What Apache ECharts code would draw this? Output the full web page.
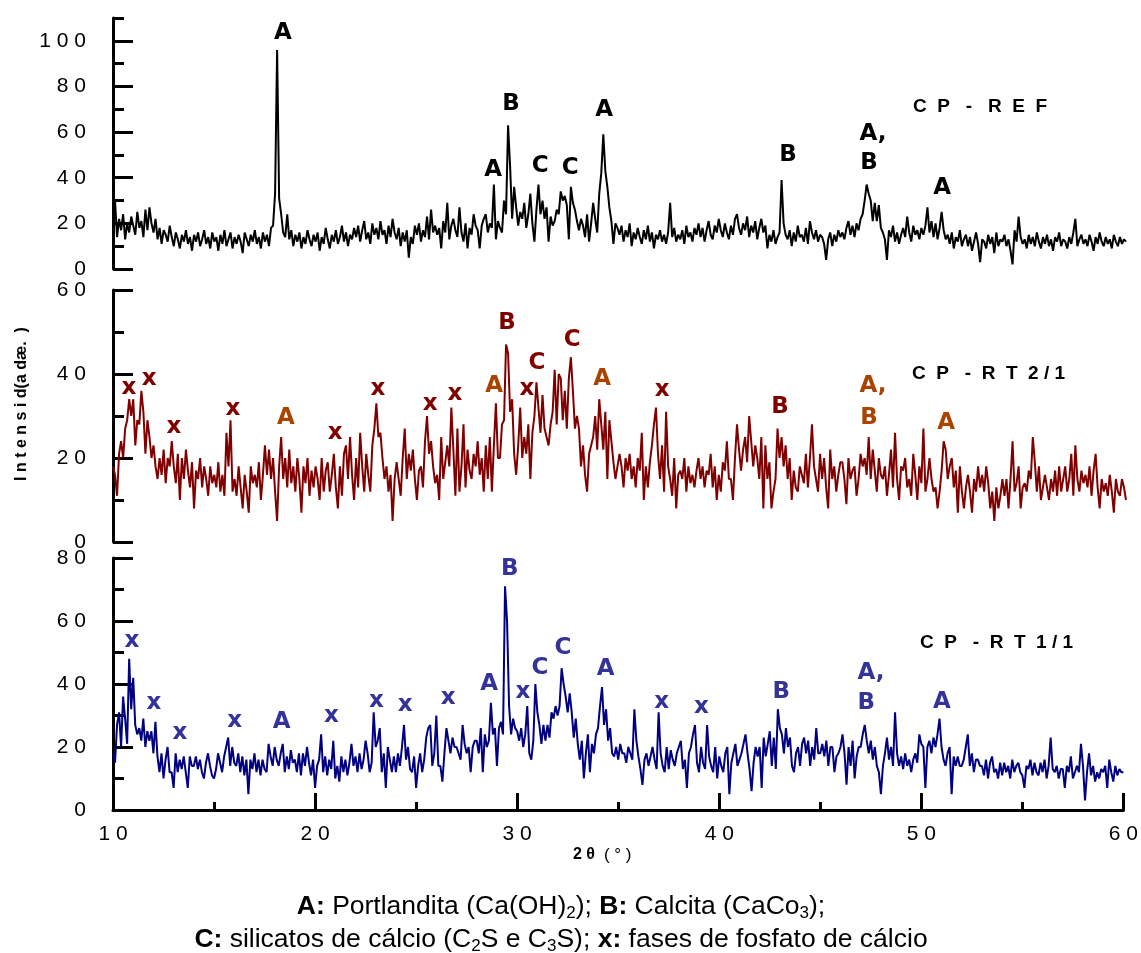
<!DOCTYPE html>
<html><head><meta charset="utf-8">
<script src="https://cdn.jsdelivr.net/npm/echarts@6/dist/echarts.min.js"></script>
<style>html,body{margin:0;padding:0;background:#fff}#c{width:1141px;height:953px}</style>
</head><body><div id="c"></div><script>
// 2θ scan: 10.0° to 60.0°, step 0.1°
const thetaStart = 10, thetaStep = 0.1, thetaCount = 501;
const twoTheta = Array.from({length: thetaCount}, (_, i) => +(thetaStart + i * thetaStep).toFixed(1));

// CP - REF intensities (one row per degree)
const refIntensity = [
 18,30,14,22,17,24,13,20,16,23, 19,15,25,18,21,14,26,17,27,20,
 16,22,13,18,11,17,15,12,19,14, 10,16,13,9,15,12,17,11,14,8,
 15,12,16,10,13,17,11,14,9,16, 12,14,8,15,11,17,10,13,16,9,
 14,11,15,12,7,16,13,10,15,12, 17,11,14,9,16,12,15,10,18,19,
 33,96,31,24,16,14,24,13,17,10, 15,12,16,9,14,11,17,13,10,15,
 12,16,8,14,11,18,13,9,15,12, 17,11,14,19,12,16,10,15,13,18,
 14,19,12,17,21,13,16,11,20,15, 18,13,21,15,17,11,19,14,22,16,
 13,18,10,16,12,17,5,14,11,19, 15,20,12,17,14,23,13,26,16,19,
 15,18,9,21,16,29,13,19,22,17, 14,27,16,12,20,9,18,15,24,19,
 17,9,19,22,24,16,20,18,37,13, 21,18,16,30,24,63,45,22,36,27,
 19,25,22,29,18,24,33,20,12,26, 37,24,30,22,27,12,23,19,21,26,
 24,34,30,32,28,13,36,29,26,21, 17,22,19,14,24,12,20,29,22,16,
 33,42,59,43,36,27,21,11,20,18, 15,19,12,17,14,20,10,16,13,18,
 14,11,17,13,19,12,16,9,15,13, 17,12,15,11,16,29,14,18,12,15,
 13,17,11,19,14,16,12,18,15,20, 14,18,12,17,21,15,13,19,16,22,
 17,14,20,16,13,19,15,22,24,18, 15,20,17,23,14,19,16,21,13,18,
 22,16,19,9,15,12,17,11,14,16, 39,20,15,13,17,10,16,12,19,14,
 15,12,18,11,21,16,13,17,12,15, 14,11,4,13,16,10,15,12,17,14,
 16,13,18,21,15,19,14,20,17,22, 24,30,37,33,30,21,29,21,28,18,
 16,13,4,17,14,19,12,16,11,15, 18,14,23,16,12,19,15,17,13,18,
 15,19,27,16,21,14,20,13,18,25, 17,13,15,11,16,9,14,12,17,10,
 13,15,10,14,8,12,16,11,3,13, 12,9,15,11,14,7,16,10,13,12,
 15,10,13,8,2,17,12,23,14,11, 13,9,15,11,14,10,16,12,9,14,
 11,15,10,13,8,14,12,16,10,13, 12,9,14,11,16,22,10,13,15,11,
 13,10,15,12,8,14,11,16,12,10, 14,11,13,9,15,12,10,14,11,13,
 12
];

// CP - RT2/1 intensities
const rt21Intensity = [
 18,16,11,21,24,20,27,29,34,30, 34,23,29,28,36,31,21,29,25,20,
 23,18,15,20,16,22,14,20,18,24, 18,14,21,10,20,15,22,17,13,19,
 8,17,15,20,13,18,15,11,18,14, 16,13,19,12,16,11,26,18,29,12,
 15,11,18,13,8,16,12,7,18,14, 16,13,19,10,16,23,16,22,15,20,
 12,5,18,25,15,20,13,22,14,18, 12,20,15,7,18,14,20,11,17,13,
 18,15,10,20,12,17,19,12,16,21, 13,8,18,11,21,23,15,25,16,10,
 20,13,26,18,12,21,16,12,23,27, 33,25,26,20,15,18,12,16,5,15,
 19,15,11,20,27,15,21,17,22,15, 10,17,18,13,24,30,21,24,18,14,
 16,10,25,15,19,23,18,32,22,11, 27,12,18,28,13,22,17,15,21,18,
 24,16,20,12,23,15,25,12,23,33, 20,20,28,29,47,45,31,34,21,16,
 23,32,20,25,21,28,15,26,30,38, 32,26,35,27,25,23,28,31,41,28,
 40,39,29,36,27,39,44,36,27,30, 27,18,23,16,12,21,23,25,30,22,
 34,28,22,31,15,29,24,19,15,18, 21,18,13,20,17,21,15,18,13,20,
 17,26,10,18,13,19,23,28,32,21, 15,23,12,31,18,15,11,20,8,16,
 17,15,20,12,18,14,16,13,17,20, 15,18,13,17,16,21,13,18,10,16,
 12,19,17,24,15,15,10,20,28,22, 17,22,25,19,30,24,18,23,20,15,
 25,8,23,15,19,8,12,15,27,20, 25,18,23,15,20,10,17,13,12,18,
 16,14,21,13,20,28,18,15,12,21, 15,20,13,8,22,15,18,12,16,19,
 19,15,9,20,15,17,18,11,15,21, 18,20,16,25,15,22,17,12,20,16,
 15,18,11,16,22,13,26,15,10,18, 17,20,13,15,11,21,16,10,18,14,
 27,12,15,20,15,12,13,8,12,17, 24,22,15,18,20,13,17,7,18,12,
 8,13,16,12,7,15,12,18,13,16, 12,18,14,8,12,5,13,8,11,15,
 11,15,8,15,24,12,14,18,8,13, 14,12,17,15,25,19,12,18,10,13,
 16,13,10,15,12,17,11,18,12,15, 18,12,15,21,11,23,15,12,17,14,
 16,13,18,11,17,21,13,8,15,12, 14,11,16,12,7,15,12,11,15,13,
 10
];

// CP - RT1/1 intensities
const rt11Intensity = [
 18,15,27,31,20,36,29,21,48,32, 42,27,24,26,22,29,20,25,22,25,
 18,28,17,12,18,10,16,20,12,12, 7,18,12,16,13,17,12,7,17,14,
 14,17,13,16,12,10,15,18,14,11, 10,13,18,15,12,17,20,23,14,20,
 15,14,18,12,17,11,16,5,16,13, 18,12,16,11,16,13,12,21,17,14,
 20,16,14,18,21,12,17,13,19,15, 16,12,18,11,18,14,20,15,11,16,
 7,14,16,24,12,17,11,16,13,22, 10,14,9,17,12,16,11,15,21,14,
 17,12,18,13,16,22,18,12,15,31, 20,22,26,12,18,7,20,16,12,17,
 12,18,14,20,27,16,20,13,12,17, 7,14,18,12,16,23,26,27,14,18,
 30,14,14,9,18,26,22,18,23,20, 20,18,16,27,21,18,20,12,20,22,
 22,18,26,12,24,20,22,34,24,26, 14,26,28,24,71,60,33,24,29,26,
 25,22,26,20,24,33,18,16,22,40, 31,27,21,27,22,27,23,31,29,33,
 30,33,45,40,36,31,37,31,23,29, 21,16,22,10,18,24,12,21,18,24,
 26,33,39,27,32,22,26,18,17,20, 16,21,18,18,15,20,18,16,32,22,
 17,13,8,16,18,14,17,20,16,13, 31,18,14,12,20,13,19,16,14,18,
 20,22,13,16,7,18,20,24,27,15, 12,20,15,13,27,17,14,12,20,10,
 17,14,12,18,20,5,15,18,21,14, 16,18,21,24,18,13,6,15,20,17,
 20,7,23,17,21,25,14,23,13,32, 26,24,18,26,20,23,14,12,18,20,
 14,21,23,18,22,14,20,16,26,18, 18,21,17,22,14,20,20,12,17,18,
 20,24,18,8,20,14,22,10,17,20, 20,24,27,22,18,22,16,20,14,12,
 5,14,18,23,16,20,14,31,18,14, 17,13,18,14,16,12,16,18,15,24,
 21,20,7,20,22,18,23,20,24,29, 20,16,14,18,20,5,17,14,17,14,
 14,16,20,24,14,18,12,16,16,14, 14,11,16,10,15,17,12,13,10,15,
 11,15,12,14,10,16,12,14,15,12, 11,7,14,13,16,11,15,12,11,15,
 12,16,10,14,23,13,12,14,10,13, 13,7,14,12,17,10,12,14,12,21,
 14,3,12,18,11,14,9,12,10,13, 12,14,7,16,12,9,14,11,13,12,
 12
];

// tick labels
const xTicks = [10, 20, 30, 40, 50, 60];
const yTicksRef = [0, 20, 40, 60, 80, 100];
const yTicksRt21 = [0, 20, 40, 60];
const yTicksRt11 = [0, 20, 40, 60, 80];

// peak identifications: [label, 2θ, intensity]
const refPeaks = [
 ['A',18.39,103.5],['A',28.76,43.4],['B',29.64,72.4],['C',31.08,45.2],['C',32.56,44.3],
 ['A',34.24,69.7],['B',43.32,50],['A,',47.51,59.2],['B',47.31,46.5],['A',50.92,35.5]
];
const rt21PeaksOther = [
 ['x',10.79,36.7],['x',11.78,38.8],['x',13.01,27.4],['x',15.92,31.7],['x',20.96,26],
 ['x',23.08,36.4],['x',25.65,32.9],['x',26.88,35.2],['B',29.45,52.1],['x',30.43,36.4],
 ['C',30.93,42.6],['C',32.66,48.1],['x',37.1,36.2],['B',42.92,32.1]
];
const rt21PeaksPortlandite = [
 ['A',18.54,29.5],['A',28.81,37.1],['A',34.14,38.8],['A,',47.51,37.1],['B',47.31,29.5],['A',51.12,28.3]
];
const rt11Peaks = [
 ['x',10.94,53.7],['x',12.02,34.0],['x',13.31,24.4],['x',16.02,28.3],['A',18.34,27.9],
 ['x',20.81,29.8],['x',23.03,34.6],['x',24.46,33.3],['x',26.58,35.6],['A',28.61,40],
 ['B',29.64,76.5],['x',30.29,37.5],['C',31.13,45.1],['C',32.26,51.4],['A',34.38,44.8],
 ['x',37.15,34.3],['x',39.12,32.7],['B',43.07,37.5],['A,',47.51,43.5],['B',47.27,34],['A',51.02,34.3]
];

const FONT = '"Liberation Sans", Arial, sans-serif';
const spaced = v => String(v).split('').join(' ');
const BLACK = '#000';

function xAxisFor(i, visible) {
  return {
    gridIndex: i, type: 'value', min: 10, max: 60, interval: 10, show: visible,
    axisLine: {show: true, onZero: false, lineStyle: {color: BLACK, width: 3}},
    axisTick: {show: true, inside: true, length: 17, lineStyle: {color: BLACK, width: 3}},
    minorTick: {show: true, splitNumber: 2, length: 8, lineStyle: {color: BLACK, width: 3}},
    axisLabel: {margin: 14, formatter: spaced, color: BLACK, fontSize: 21, fontFamily: FONT,
      customValues: xTicks},
    splitLine: {show: false}, minorSplitLine: {show: false}
  };
}
function yAxesFor(i, max, majors) {
  return [
    {gridIndex: i, type: 'value', min: 0, max: max, interval: 10, position: 'left',
     axisLine: {show: true, onZero: false, lineStyle: {color: BLACK, width: 3}},
     axisTick: {show: true, inside: true, length: 20, customValues: majors, lineStyle: {color: BLACK, width: 3}},
     axisLabel: {customValues: majors, formatter: spaced, margin: 27, color: BLACK, fontSize: 21, fontFamily: FONT},
     splitLine: {show: false}},
    {gridIndex: i, type: 'value', min: 0, max: max, interval: 10, position: 'left',
     axisLine: {show: false},
     axisTick: {show: true, inside: true, length: 11, lineStyle: {color: BLACK, width: 3}},
     axisLabel: {show: false}, splitLine: {show: false}}
  ];
}
function lineSeries(values, idx, color) {
  return {type: 'line', xAxisIndex: idx, yAxisIndex: idx * 2, showSymbol: false, symbol: 'none',
    data: twoTheta.map((t, k) => [t, values[k]]), lineStyle: {color: color, width: 2},
    silent: true, z: 2};
}
function labelSeries(arr, idx, color) {
  return {type: 'scatter', xAxisIndex: idx, yAxisIndex: idx * 2, symbolSize: 1, silent: true, z: 5,
    itemStyle: {color: 'rgba(0,0,0,0)', opacity: 1},
    data: arr.map(a => ({name: a[0], value: [a[1], a[2]]})),
    label: {show: true, position: 'inside', formatter: p => p.name, color: color,
      fontSize: 23, fontWeight: 'bold', fontFamily: '"DejaVu Sans", sans-serif'}};
}

const chart = echarts.init(document.getElementById('c'), null, {renderer: 'canvas'});
chart.setOption({
  animation: false,
  backgroundColor: '#fff',
  grid: [
    {left: 113, right: 15, top: 18, height: 251},
    {left: 113, right: 15, top: 290, height: 252},
    {left: 113, right: 15, top: 558, height: 252}
  ],
  xAxis: [xAxisFor(0, false), xAxisFor(1, false), xAxisFor(2, true)],
  yAxis: [].concat(yAxesFor(0, 110, yTicksRef), yAxesFor(1, 60, yTicksRt21), yAxesFor(2, 80, yTicksRt11)),
  series: [
    lineSeries(refIntensity, 0, '#000000'),
    lineSeries(rt21Intensity, 1, '#800000'),
    lineSeries(rt11Intensity, 2, '#000080'),
    labelSeries(refPeaks, 0, '#000000'),
    labelSeries(rt21PeaksOther, 1, '#800000'),
    labelSeries(rt21PeaksPortlandite, 1, '#a84400'),
    labelSeries(rt11Peaks, 2, '#333399')
  ],
  graphic: [
    {type: 'text', x: 913, y: 107, style: {text: 'C  P   -   R  E  F', fill: BLACK,
      font: 'bold 19px "Liberation Sans"', align: 'left', verticalAlign: 'middle', textAlign: 'left', textVerticalAlign: 'middle'}},
    {type: 'text', x: 912, y: 374, style: {text: 'C  P   -  R  T  2 / 1', fill: BLACK,
      font: 'bold 19px "Liberation Sans"', align: 'left', verticalAlign: 'middle', textAlign: 'left', textVerticalAlign: 'middle'}},
    {type: 'text', x: 920, y: 643, style: {text: 'C  P   -  R  T  1 / 1', fill: BLACK,
      font: 'bold 19px "Liberation Sans"', align: 'left', verticalAlign: 'middle', textAlign: 'left', textVerticalAlign: 'middle'}},
    {type: 'text', x: 573, y: 855, style: {text: '{b|2 θ}  {n|( ° )}', fill: BLACK,
      rich: {b: {fontWeight: 'bold', fontSize: 16, fontFamily: FONT, fill: BLACK},
             n: {fontSize: 17, fontFamily: FONT, fill: BLACK}},
      fontSize: 16, fontFamily: FONT, align: 'left', verticalAlign: 'middle', textAlign: 'left', textVerticalAlign: 'middle'}},
    {type: 'text', x: 22, y: 404, rotation: Math.PI / 2, style: {text: 'I n t e n s i d(a dæ.  )', fill: BLACK,
      font: 'bold 16px "Liberation Sans"', align: 'center', verticalAlign: 'middle', textAlign: 'center', textVerticalAlign: 'middle'}},
    {type: 'text', x: 561, y: 907, style: {
      text: '{b|A:} Portlandita (Ca(OH){s|2}); {b|B:} Calcita (CaCo{s|3});',
      rich: {b: {fontWeight: 'bold', fontSize: 26.5, fontFamily: FONT, fill: BLACK, lineHeight: 30},
             s: {fontSize: 17, fontFamily: FONT, fill: BLACK, verticalAlign: 'bottom', lineHeight: 17}},
      fontSize: 26.5, fontFamily: FONT, fill: BLACK, lineHeight: 30,
      align: 'center', verticalAlign: 'middle', textAlign: 'center', textVerticalAlign: 'middle'}},
    {type: 'text', x: 561, y: 940, style: {
      text: '{b|C:} silicatos de cálcio (C{s|2}S e C{s|3}S); {b|x:} fases de fosfato de cálcio',
      rich: {b: {fontWeight: 'bold', fontSize: 26.5, fontFamily: FONT, fill: BLACK, lineHeight: 30},
             s: {fontSize: 17, fontFamily: FONT, fill: BLACK, verticalAlign: 'bottom', lineHeight: 17}},
      fontSize: 26.5, fontFamily: FONT, fill: BLACK, lineHeight: 30,
      align: 'center', verticalAlign: 'middle', textAlign: 'center', textVerticalAlign: 'middle'}}
  ]
});
</script></body></html>
